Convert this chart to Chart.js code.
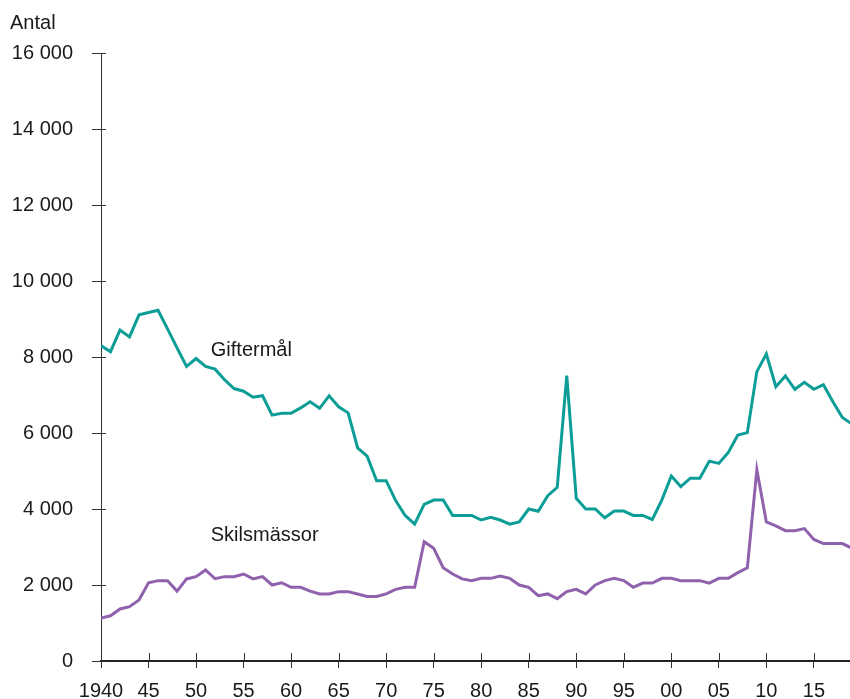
<!DOCTYPE html>
<html>
<head>
<meta charset="utf-8">
<script src="https://cdn.jsdelivr.net/npm/chart.js@4"></script>
<style>
  html, body { margin: 0; padding: 0; background: #fff; }
  #wrap { width: 850px; height: 699px; }
</style>
</head>
<body>
<div id="wrap"><canvas id="chart"></canvas></div>
<script>
const years = [];
for (let y = 1940; y <= 2019; y++) years.push(y);

const giftermal = [
  8300, 8140, 8710, 8530, 9110, 9170, 9230, 8740, 8240, 7750,
  7960, 7750, 7680, 7400, 7170, 7100, 6940, 6980, 6470, 6520,
  6520, 6660, 6820, 6650, 6980, 6690, 6530, 5610, 5390, 4745,
  4745, 4220, 3830, 3605, 4120, 4235, 4235, 3830, 3830, 3830,
  3710, 3780, 3710, 3600, 3660, 4000, 3940, 4350, 4570, 7510,
  4280, 4000, 4000, 3770, 3945, 3945, 3830, 3830, 3725, 4235,
  4870, 4590, 4810, 4810, 5260, 5200, 5490, 5945, 6010, 7615,
  8080, 7220, 7500, 7150, 7335, 7150, 7270, 6825, 6410, 6235
];

const skilsmassor = [
  1130, 1190, 1370, 1430, 1605, 2060, 2115, 2115, 1840, 2160,
  2220, 2395, 2165, 2220, 2220, 2290, 2160, 2220, 2000, 2060,
  1940, 1940, 1840, 1765, 1765, 1825, 1825, 1765, 1700, 1700,
  1765, 1885, 1940, 1940, 3140, 2965, 2455, 2290, 2160, 2115,
  2175, 2175, 2235, 2175, 2000, 1940, 1720, 1765, 1640, 1825,
  1885, 1765, 2000, 2115, 2175, 2115, 1940, 2050, 2050, 2175,
  2175, 2115, 2115, 2115, 2050, 2175, 2175, 2325, 2455, 5035,
  3660, 3555, 3430, 3430, 3485, 3200, 3090, 3090, 3090, 2970
];

const seriesNames = ['Giftermål', 'Skilsmässor'];
const yTicks = [0, 2000, 4000, 6000, 8000, 10000, 12000, 14000, 16000];

const TEXT = '#1a1a1a';
const FONT = '"Liberation Sans", Arial, Helvetica, sans-serif';

const fmt = v => String(v).replace(/\B(?=(\d{3})+(?!\d))/g, ' ');

// ticks that cross the axis lines + annotations
const decor = {
  id: 'decor',
  afterDraw(chart) {
    const { ctx, scales: { x, y } } = chart;
    ctx.save();
    ctx.strokeStyle = '#333';
    ctx.lineWidth = 1;
    ctx.beginPath();
    yTicks.forEach(v => {
      const py = Math.round(y.getPixelForValue(v)) + 0.5;
      ctx.moveTo(x.left, py);
      ctx.lineTo(x.left + 5, py);
    });
    x.ticks.forEach(t => {
      const px = Math.round(x.getPixelForValue(t.value)) + 0.5;
      ctx.moveTo(px, y.bottom);
      ctx.lineTo(px, y.bottom - 8);
    });
    ctx.stroke();

    ctx.fillStyle = TEXT;
    ctx.font = '20px ' + FONT;
    ctx.textAlign = 'left';
    ctx.textBaseline = 'alphabetic';
    ctx.fillText('Antal', 10, 29);
    ctx.fillText(seriesNames[0], x.getPixelForValue(1951.55), y.getPixelForValue(8030));
    ctx.fillText(seriesNames[1], x.getPixelForValue(1951.55), y.getPixelForValue(3158));
    ctx.restore();
  }
};

new Chart(document.getElementById('chart'), {
  type: 'line',
  data: {
    datasets: [
      {
        label: seriesNames[0],
        data: years.map((yr, i) => ({ x: yr, y: giftermal[i] })),
        borderColor: '#0c9e96',
        borderWidth: 3,
        pointRadius: 0,
        tension: 0,
        fill: false
      },
      {
        label: seriesNames[1],
        data: years.map((yr, i) => ({ x: yr, y: skilsmassor[i] })),
        borderColor: '#9062ad',
        borderWidth: 3,
        pointRadius: 0,
        tension: 0,
        fill: false
      }
    ]
  },
  options: {
    responsive: true,
    maintainAspectRatio: false,
    animation: false,
    layout: { padding: { top: 53, right: 0, left: 0, bottom: 0 } },
    plugins: {
      legend: { display: false },
      tooltip: { enabled: false }
    },
    scales: {
      x: {
        type: 'linear',
        min: 1940,
        max: 2018.8,
        afterFit: s => { s.height = 38; },
        grid: { display: true, drawOnChartArea: false, drawTicks: true, tickLength: 7, tickColor: '#333' },
        border: { display: true, color: '#222', width: 2 },
        ticks: {
          stepSize: 5,
          includeBounds: false,
          autoSkip: false,
          maxRotation: 0,
          padding: 11,
          color: TEXT,
          font: { family: FONT, size: 20 },
          callback: v => v === 1940 ? '1940' : String(v % 100).padStart(2, '0')
        }
      },
      y: {
        min: 0,
        max: 16000,
        afterFit: s => { s.width = 101; },
        grid: { display: true, drawOnChartArea: false, drawTicks: true, tickLength: 9, tickColor: '#333' },
        border: { display: true, color: '#333', width: 1 },
        ticks: {
          stepSize: 2000,
          padding: 19,
          color: TEXT,
          font: { family: FONT, size: 20 },
          callback: v => fmt(v)
        }
      }
    }
  },
  plugins: [decor]
});
</script>
</body>
</html>
